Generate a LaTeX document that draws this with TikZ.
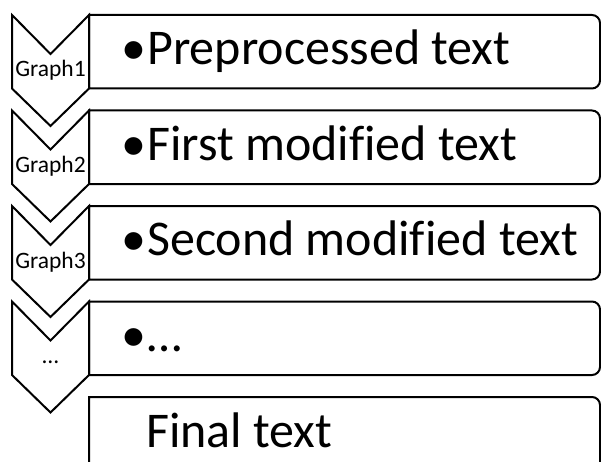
\documentclass[tikz,border=0pt]{standalone}
\usepackage{fontspec}
\setmainfont{Carlito}[Ligatures=CommonOff]
\usepackage{tikz}

\begin{document}
\begin{tikzpicture}[
    x=1pt, y=1pt,
    % Shape styles
    outline/.style={draw=black, line width=2pt, fill=white},
    % Text styles
    itemtext/.style={font=\fontsize{50}{60}\selectfont, anchor=base west, inner sep=0pt},
    graphtext/.style={font=\fontsize{23.5}{28}\selectfont, anchor=base, inner sep=0pt}
]

\clip (0,0) rectangle (601,461);

% Chevrons with their list boxes
\foreach \i/\lbl/\txt in {1/Graph1/Preprocessed text, 2/Graph2/First modified text,
                          3/Graph3/Second modified text, 4/…/…} {
    \pgfmathsetmacro\yt{446-95.5*(\i-1)}
    \pgfmathsetmacro\yb{\yt-73.5}
    % List box, square on the left, rounded on the right
    \draw[outline] (89,\yb) -- (89,\yt) -- (592,\yt)
        arc[start angle=90, end angle=0, radius=8] -- (600,\yb+8)
        arc[start angle=0, end angle=-90, radius=8] -- cycle;
    % Chevron
    \draw[outline] (12,\yt) -- (50.5,\yt-39) -- (89,\yt) -- (89,\yb)
        -- (50.5,\yt-111) -- (12,\yb) -- cycle;
    \node[graphtext] (graph\i) at (50.5,\yt-62) {\lbl};
    \node[itemtext] (item\i) at (121,\yt-49.5) {\makebox[26pt][l]{\textbullet}\txt};
}

% Final box
\draw[outline] (89,-20) -- (89,64) -- (592,64)
    arc[start angle=90, end angle=0, radius=8] -- (600,-20);
\node[itemtext] (final) at (146,13.5) {Final text};

\end{tikzpicture}
\end{document}
